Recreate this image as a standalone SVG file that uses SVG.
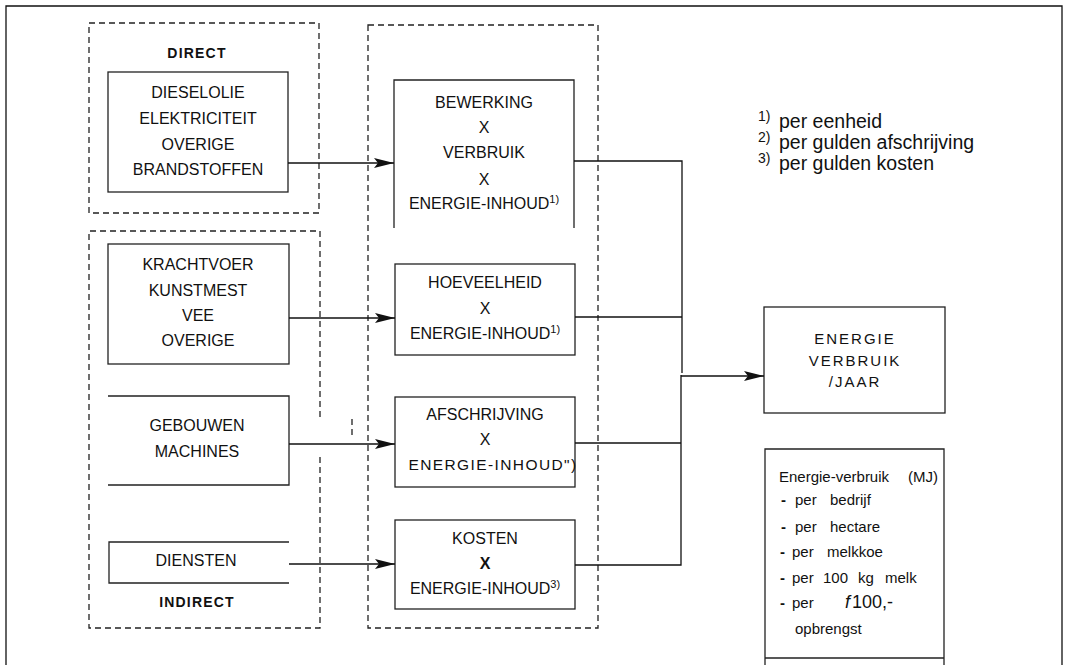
<svg xmlns="http://www.w3.org/2000/svg" width="1069" height="665" viewBox="0 0 1069 665">
<style>
text{font-family:"Liberation Sans",Arial,sans-serif;fill:#111;}
.t{font-size:16px;text-anchor:middle;}
.b{font-size:14px;font-weight:bold;text-anchor:middle;letter-spacing:1.2px;}
.sup{font-size:11px;}
.box{fill:none;stroke:#222;stroke-width:1.3;}
.dash{fill:none;stroke:#222;stroke-width:1.3;stroke-dasharray:6,4;}
.line{fill:none;stroke:#111;stroke-width:1.3;}
.fn{font-size:19.5px;}
.fs{font-size:14px;}
.r{font-size:15px;}
</style>
<defs>
<marker id="arr" viewBox="0 0 20 10" markerWidth="20" markerHeight="10" refX="20" refY="5" orient="auto" markerUnits="userSpaceOnUse">
<path d="M0,0 L20,5 L0,10 L4,5 Z" fill="#111"/>
</marker>
</defs>
<rect width="1069" height="665" fill="#fff"/>
<g id="frame">
<path class="line" d="M6,665 V6 H1062 V665"/>
</g>
<g id="groups">
<rect class="dash" x="89" y="23" width="230" height="190"/>
<path class="dash" d="M320,417 V231 H89 V628 H320 V453"/>
<rect class="dash" x="368" y="25" width="230" height="603"/>
<path class="dash" d="M352,419 V435"/>
<text class="b" x="197" y="58">DIRECT</text>
<text class="b" x="197" y="607">INDIRECT</text>
</g>
<g id="direct">
<rect class="box" x="108" y="72" width="180" height="120"/>
<text class="t" x="198" y="98">DIESELOLIE</text>
<text class="t" x="198" y="124">ELEKTRICITEIT</text>
<text class="t" x="198" y="150">OVERIGE</text>
<text class="t" x="198" y="175">BRANDSTOFFEN</text>
</g>
<g id="krachtvoer">
<rect class="box" x="108" y="244" width="181" height="120"/>
<text class="t" x="198" y="270">KRACHTVOER</text>
<text class="t" x="198" y="296">KUNSTMEST</text>
<text class="t" x="198" y="321">VEE</text>
<text class="t" x="198" y="346">OVERIGE</text>
</g>
<g id="gebouwen">
<path class="box" d="M108,396 H289 V485 H108"/>
<text class="t" x="197" y="431">GEBOUWEN</text>
<text class="t" x="197" y="457">MACHINES</text>
</g>
<g id="diensten">
<path class="box" d="M289,542 H109 V583 H289"/>
<text class="t" x="196" y="566">DIENSTEN</text>
</g>
<g id="bewerking">
<path class="box" d="M394,228 V80 H574 V228"/>
<text class="t" x="484" y="108">BEWERKING</text>
<text class="t" x="484" y="133">X</text>
<text class="t" x="484" y="158">VERBRUIK</text>
<text class="t" x="484" y="185">X</text>
<text class="t" x="484" y="209">ENERGIE-INHOUD<tspan class="sup" dy="-6">1)</tspan></text>
</g>
<g id="hoeveelheid">
<rect class="box" x="395" y="264" width="180" height="91"/>
<text class="t" x="485" y="288">HOEVEELHEID</text>
<text class="t" x="485" y="314">X</text>
<text class="t" x="485" y="339">ENERGIE-INHOUD<tspan class="sup" dy="-6">1)</tspan></text>
</g>
<g id="afschrijving">
<rect class="box" x="395" y="397" width="180" height="90"/>
<text class="t" x="485" y="420">AFSCHRIJVING</text>
<text class="t" x="485" y="445">X</text>
<text class="t" x="493" y="470" style="font-size:15.5px;letter-spacing:1.4px">ENERGIE-INHOUD")</text>
</g>
<g id="kosten">
<rect class="box" x="395" y="520" width="180" height="89"/>
<text class="t" x="485" y="544">KOSTEN</text>
<text class="t" x="485" y="569" style="font-weight:bold">X</text>
<text class="t" x="485" y="594">ENERGIE-INHOUD<tspan class="sup" dy="-6">3)</tspan></text>
</g>
<g id="energieverbruik">
<rect class="box" x="764" y="307" width="181" height="106"/>
<text class="r" x="855" y="344" text-anchor="middle" letter-spacing="2">ENERGIE</text>
<text class="r" x="855" y="366" text-anchor="middle" letter-spacing="2">VERBRUIK</text>
<text class="r" x="855" y="387" text-anchor="middle" letter-spacing="2">/JAAR</text>
</g>
<g id="resultaten">
<path class="box" d="M765,665 V449 H944 V665 M765,658 H944"/>
<text class="r" x="779" y="482">Energie-verbruik</text>
<text class="r" x="908" y="482">(MJ)</text>
<text class="r" x="781" y="505" font-weight="bold">-</text>
<text class="r" x="795" y="505">per</text>
<text class="r" x="830" y="505">bedrijf</text>
<text class="r" x="781" y="532" font-weight="bold">-</text>
<text class="r" x="795" y="532">per</text>
<text class="r" x="830" y="532">hectare</text>
<text class="r" x="780" y="557" font-weight="bold">-</text>
<text class="r" x="792" y="557">per</text>
<text class="r" x="827" y="557">melkkoe</text>
<text class="r" x="780" y="583" font-weight="bold">-</text>
<text class="r" x="792" y="583">per</text>
<text class="r" x="823" y="583">100</text>
<text class="r" x="858" y="583">kg</text>
<text class="r" x="885" y="583">melk</text>
<text class="r" x="780" y="608" font-weight="bold">-</text>
<text class="r" x="792" y="608">per</text>
<text x="845" y="608" style="font-size:18px;font-style:italic">f</text>
<text x="852" y="608" style="font-size:18px">100,-</text>
<text class="r" x="795" y="634">opbrengst</text>
</g>
<g id="footnotes">
<text class="fn" x="780" y="128"><tspan class="fs" x="758" dy="-7">1)</tspan><tspan x="779" dy="7">per eenheid</tspan></text>
<text class="fn" x="780" y="149"><tspan class="fs" x="758" dy="-7">2)</tspan><tspan x="779" dy="7">per gulden afschrijving</tspan></text>
<text class="fn" x="780" y="170"><tspan class="fs" x="758" dy="-7">3)</tspan><tspan x="779" dy="7">per gulden kosten</tspan></text>
</g>
<g id="connectors">
<path class="line" d="M288,163 H394" marker-end="url(#arr)"/>
<path class="line" d="M289,318 H395" marker-end="url(#arr)"/>
<path class="line" d="M289,444 H395" marker-end="url(#arr)"/>
<path class="line" d="M289,564 H395" marker-end="url(#arr)"/>
<path class="line" d="M574,161 H682 V373"/>
<path class="line" d="M575,317 H682"/>
<path class="line" d="M575,443 H681"/>
<path class="line" d="M575,565 H681 V375"/>
<path class="line" d="M681,376 H764" marker-end="url(#arr)"/>
</g>
</svg>
